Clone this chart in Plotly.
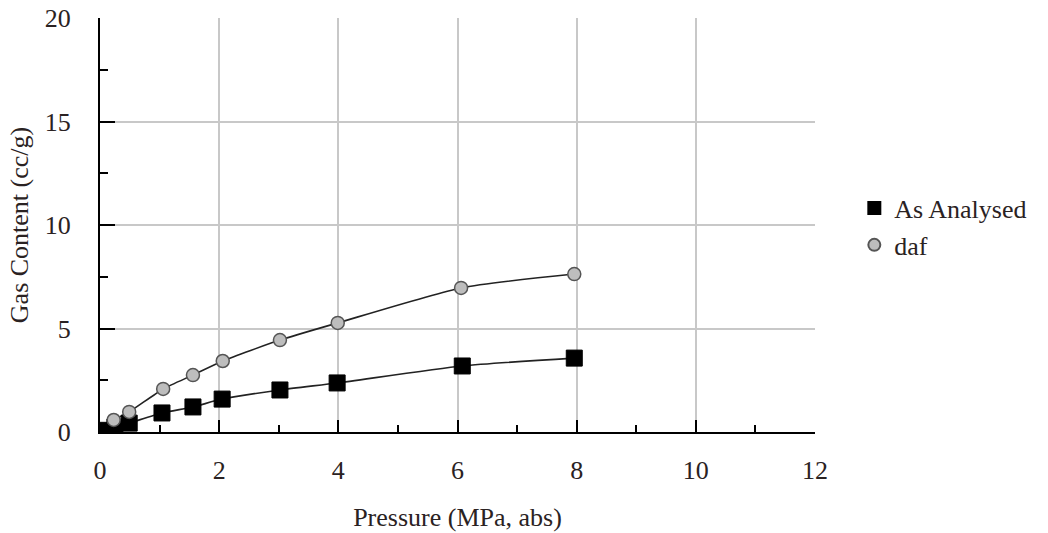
import plotly.graph_objects as go

# Data
as_analysed_x = [0.12, 0.25, 0.49, 1.04, 1.56, 2.05, 3.02, 3.98, 6.08, 7.96]
as_analysed_y = [0.08, 0.24, 0.43, 0.92, 1.21, 1.59, 2.03, 2.37, 3.19, 3.57]
daf_x = [0.23, 0.49, 1.06, 1.56, 2.06, 3.02, 3.99, 6.06, 7.96]
daf_y = [0.58, 0.97, 2.08, 2.75, 3.43, 4.44, 5.27, 6.96, 7.63]

x_ticks = [0, 2, 4, 6, 8, 10, 12]
y_ticks = [0, 5, 10, 15, 20]

FONT = "Liberation Serif"
TXT = "#2a2222"
FS = 26

fig = go.Figure()
# connecting lines (not in legend)
for xs, ys in [(as_analysed_x, as_analysed_y), (daf_x, daf_y)]:
    fig.add_trace(go.Scatter(
        x=xs, y=ys, mode="lines", showlegend=False, hoverinfo="skip",
        line=dict(color="#222", width=1.6, shape="spline", smoothing=0.6),
    ))
fig.add_trace(go.Scatter(
    x=as_analysed_x, y=as_analysed_y, name="As Analysed", mode="markers",
    marker=dict(symbol="square", size=16, color="black", line=dict(color="black", width=1)),
))
fig.add_trace(go.Scatter(
    x=daf_x, y=daf_y, name="daf", mode="markers",
    marker=dict(symbol="circle", size=13, color="#bdbdbd", line=dict(color="#555", width=1.5)),
))

fig.update_layout(
    width=1048, height=533,
    margin=dict(l=100, r=233, t=18, b=101),
    paper_bgcolor="white", plot_bgcolor="white",
    font=dict(family=FONT, size=FS, color=TXT),
    legend=dict(x=1.055, y=0.496, xanchor="left", yanchor="middle",
                font=dict(family=FONT, size=FS, color=TXT),
                itemsizing="constant", tracegroupgap=0, bgcolor="rgba(0,0,0,0)"),
    xaxis=dict(
        range=[0, 12], tickvals=x_ticks, ticktext=[str(v) for v in x_ticks],
        showgrid=True, gridcolor="#c8c8c8", gridwidth=2,
        showline=True, linecolor="black", linewidth=2,
        ticks="inside", ticklen=12, tickwidth=2, tickcolor="black",
        minor=dict(dtick=1, tick0=1, ticks="inside", ticklen=7, tickwidth=2, tickcolor="black", showgrid=False),
        ticklabelstandoff=14,
        zeroline=False, automargin=False,
        title=dict(text="Pressure (MPa, abs)", font=dict(family=FONT, size=FS, color=TXT), standoff=24),
    ),
    yaxis=dict(
        range=[0, 20], tickvals=y_ticks, ticktext=[str(v) for v in y_ticks],
        showgrid=True, gridcolor="#c8c8c8", gridwidth=2,
        showline=True, linecolor="black", linewidth=2,
        ticks="inside", ticklen=15, tickwidth=2, tickcolor="black",
        minor=dict(dtick=2.5, tick0=2.5, ticks="inside", ticklen=8, tickwidth=2, tickcolor="black", showgrid=False),
        ticklabelstandoff=22,
        zeroline=False, automargin="left+right",
        title=dict(text="Gas Content (cc/g)", font=dict(family=FONT, size=FS, color=TXT), standoff=9),
    ),
)

fig.write_html("out.html")
